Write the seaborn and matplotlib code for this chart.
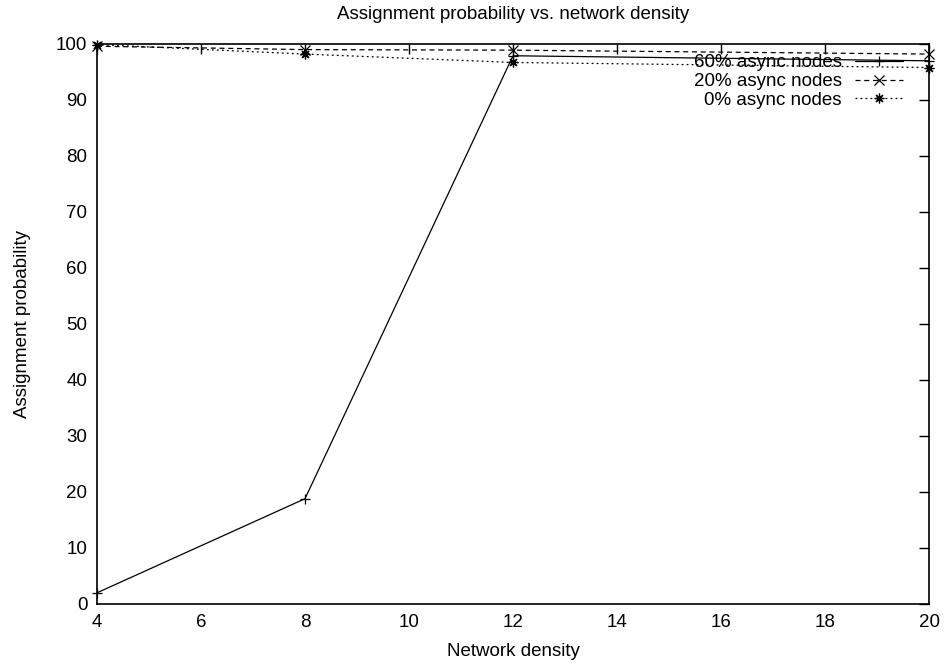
import matplotlib
matplotlib.use("Agg")
import matplotlib.pyplot as plt
import seaborn as sns
import pandas as pd

# Network density values and assignment probability (%) per async-node share
density = [4, 8, 12, 20]
async_60 = [2.0, 18.8, 97.9, 97.0]
async_20 = [99.6, 99.0, 98.9, 98.2]
async_0 = [99.9, 98.2, 96.7, 95.8]

series_names = ["60% async nodes", "20% async nodes", "0% async nodes"]
x_ticks = [4, 6, 8, 10, 12, 14, 16, 18, 20]
y_ticks = [0, 10, 20, 30, 40, 50, 60, 70, 80, 90, 100]

sns.set_theme(style="white")
plt.rcParams["font.family"] = ["Liberation Sans", "DejaVu Sans"]
plt.rcParams["text.color"] = "black"
plt.rcParams["axes.labelcolor"] = "black"

rows = []
for name, vals in zip(series_names, [async_60, async_20, async_0]):
    for d, v in zip(density, vals):
        rows.append({"density": d, "prob": v, "series": name})
df = pd.DataFrame(rows)

fig = plt.figure(figsize=(9.47, 6.64), dpi=100)
ax = fig.add_axes([97 / 947, 1 - 604 / 664, (929 - 97) / 947, (604 - 44) / 664])

styles = {
    "60% async nodes": dict(ls="-", marker="+"),
    "20% async nodes": dict(ls=(0, (4, 3)), marker="x"),
    "0% async nodes": dict(ls=(0, (1.5, 2.5)), marker=(8, 2, 0)),
}
for name in series_names:
    sub = df[df["series"] == name]
    sns.lineplot(data=sub, x="density", y="prob", ax=ax, color="black",
                 linewidth=0.9, markersize=7, markeredgewidth=0.9,
                 markeredgecolor="black", markerfacecolor="black",
                 clip_on=False, label=name, **styles[name])

fs = 13.5
ax.set_xlim(4, 20)
ax.set_ylim(0, 100)
ax.set_xticks(x_ticks)
ax.set_yticks(y_ticks)
ax.tick_params(direction="in", length=7, width=1.0, top=True, right=True,
               labelsize=fs, colors="black", pad=7)
for s in ax.spines.values():
    s.set_color("black")
    s.set_linewidth(1.2)

ax.set_xlabel("Network density", fontsize=fs, labelpad=9)
ax.set_ylabel("Assignment probability", fontsize=fs, labelpad=18)
ax.set_title("Assignment probability vs. network density", fontsize=fs, pad=18)

leg = ax.legend(loc="upper right", bbox_to_anchor=(0.985, 1.005), frameon=False,
                markerfirst=False, fontsize=fs, handlelength=2.6,
                labelspacing=0.08, handletextpad=0.7, borderpad=0.2)

fig.savefig("out.png", dpi=100)
